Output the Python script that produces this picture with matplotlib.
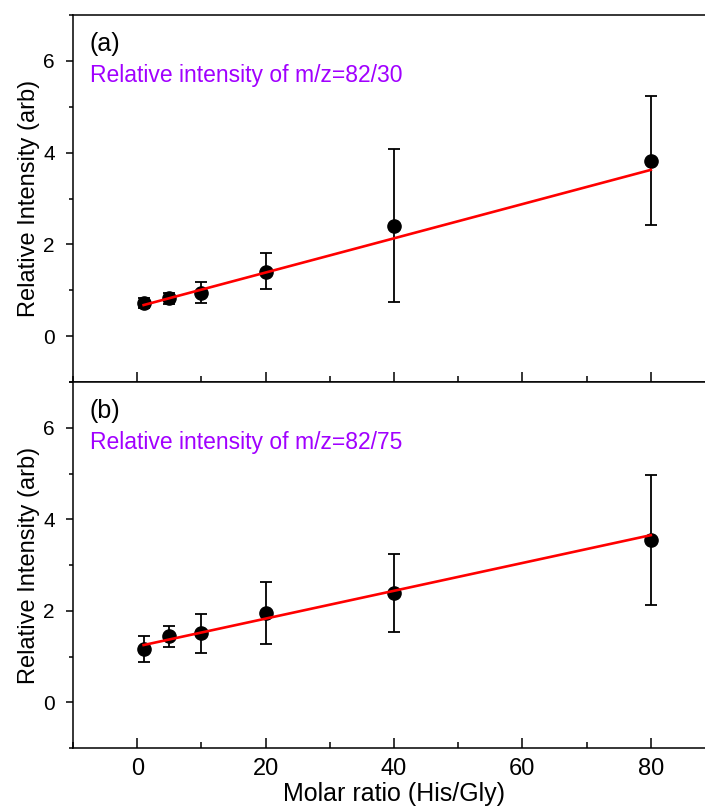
import matplotlib
matplotlib.use("Agg")
import matplotlib.pyplot as plt
from matplotlib.ticker import MultipleLocator
import numpy as np

# Data
molar_ratio = [1, 5, 10, 20, 40, 80]

a_values = [0.72, 0.83, 0.94, 1.40, 2.40, 3.82]
a_err_low = [0.61, 0.70, 0.72, 1.02, 0.74, 2.42]
a_err_high = [0.83, 0.94, 1.18, 1.81, 4.07, 5.23]
a_fit = (0.64, 0.0373)  # intercept, slope

b_values = [1.16, 1.44, 1.51, 1.96, 2.38, 3.54]
b_err_low = [0.87, 1.20, 1.07, 1.27, 1.53, 2.12]
b_err_high = [1.44, 1.66, 1.92, 2.62, 3.23, 4.96]
b_fit = (1.22, 0.0304)

panel_labels = ["(a)", "(b)"]
panel_titles = ["Relative intensity of m/z=82/30", "Relative intensity of m/z=82/75"]
xlabel = "Molar ratio (His/Gly)"
ylabel = "Relative Intensity (arb)"
xticks = [0, 20, 40, 60, 80]
yticks = [0, 2, 4, 6]

plt.rcParams['font.family'] = ['Liberation Sans', 'DejaVu Sans']

W, H = 705, 807
fig = plt.figure(figsize=(W / 100, H / 100), dpi=100)

left = 73 / W
right = 715 / W
tops = [15, 382]
bots = [382, 748]

datasets = [
    (a_values, a_err_low, a_err_high, a_fit),
    (b_values, b_err_low, b_err_high, b_fit),
]

for i in range(2):
    y0 = 1 - bots[i] / H
    h = (bots[i] - tops[i]) / H
    ax = fig.add_axes([left, y0, right - left, h])
    vals, lo, hi, fit = datasets[i]
    x = np.array(molar_ratio, dtype=float)
    v = np.array(vals)
    yerr = [v - np.array(lo), np.array(hi) - v]
    ax.errorbar(x, v, yerr=yerr, fmt='o', color='black', ms=9.5,
                ecolor='black', elinewidth=1.3, capsize=4, capthick=1.3, zorder=3)
    xf = np.array([x.min(), x.max()])
    ax.plot(xf, fit[0] + fit[1] * xf, color='#FF0000', lw=1.9, zorder=4)

    ax.set_xlim(-10, 90)
    ax.set_ylim(-1, 7)
    ax.set_xticks(xticks)
    ax.set_yticks(yticks)
    ax.xaxis.set_minor_locator(MultipleLocator(10))
    ax.yaxis.set_minor_locator(MultipleLocator(1))
    ax.tick_params(axis='x', which='major', direction='in', length=7, width=1.1,
                   pad=7, labelsize=17)
    ax.tick_params(axis='x', which='minor', direction='in', length=4, width=1.1)
    ax.tick_params(axis='y', which='major', direction='out', length=5, width=1.1,
                   pad=8, labelsize=15)
    ax.tick_params(axis='y', which='minor', direction='out', length=3, width=1.1)
    for s in ax.spines.values():
        s.set_linewidth(1.1)
    ax.set_ylabel(ylabel, fontsize=17)
    ax.yaxis.set_label_coords(-0.052, 0.5)
    if i == 0:
        ax.tick_params(axis='x', labelbottom=False)
    else:
        ax.set_xlabel(xlabel, fontsize=18, labelpad=2)

    ax.text(0.026, 0.92, panel_labels[i], transform=ax.transAxes,
            fontsize=18, va='center', ha='left', color='black')
    ax.text(0.026, 0.834, panel_titles[i], transform=ax.transAxes,
            fontsize=16.5, va='center', ha='left', color='#A100FF')

fig.savefig("out.png", dpi=100)
